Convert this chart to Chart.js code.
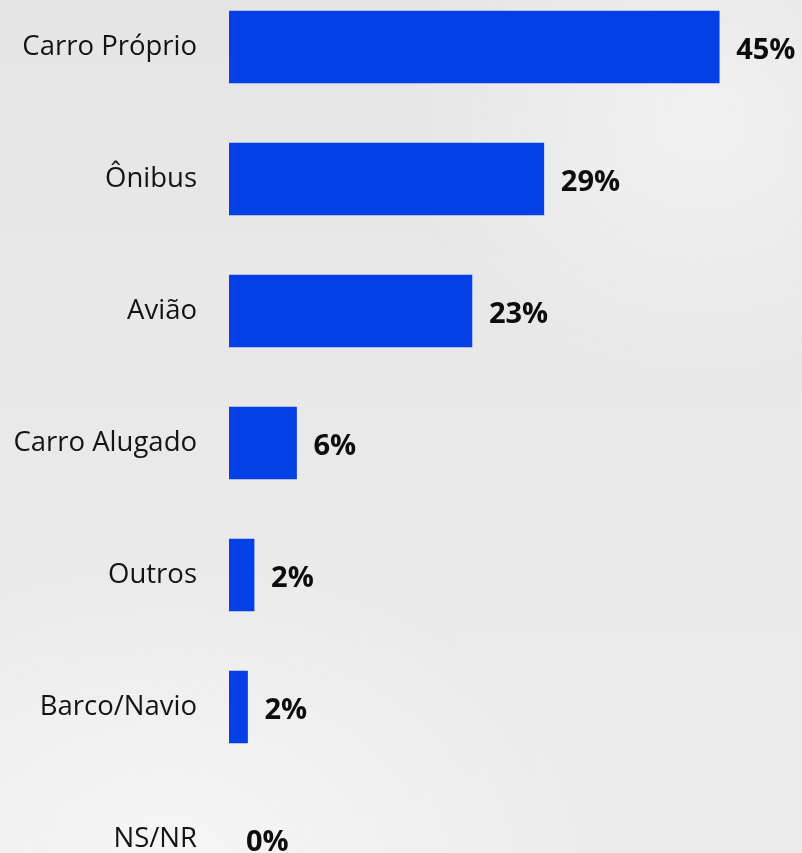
<!DOCTYPE html>
<html>
<head>
<meta charset="utf-8">
<script src="https://cdn.jsdelivr.net/npm/chart.js@4"></script>
<style>
  html, body { margin: 0; padding: 0; width: 802px; height: 853px; overflow: hidden; }
  body {
    background:
      radial-gradient(ellipse 420px 300px at 170px 860px, rgba(250,250,250,0.7), rgba(250,250,250,0) 100%),
      radial-gradient(ellipse 300px 260px at 700px 120px, rgba(248,248,248,0.6), rgba(248,248,248,0) 100%),
      linear-gradient(180deg, #e5e5e5 0%, #e9e9e9 50%, #ececec 100%);
  }
  #canvas_bar { position: absolute; left: 0; top: -19px; }
</style>
</head>
<body>
<canvas id="canvas_bar" width="802" height="924"></canvas>
<script>
const categories = ['Carro Próprio', 'Ônibus', 'Avião', 'Carro Alugado', 'Outros', 'Barco/Navio', 'NS/NR'];
const values = [45, 28.9, 22.3, 6.2, 2.3, 1.7, 0];
const valueLabels = ['45%', '29%', '23%', '6%', '2%', '2%', '0%'];

// labels at the end of each bar
const valueLabelPlugin = {
  id: 'valueLabels',
  afterDatasetsDraw(chart) {
    const ctx = chart.ctx;
    const meta = chart.getDatasetMeta(0);
    ctx.save();
    ctx.font = 'bold 29px "Open Sans"';
    ctx.fillStyle = '#0d0d0d';
    ctx.textAlign = 'left';
    ctx.textBaseline = 'middle';
    meta.data.forEach((bar, i) => {
      ctx.fillText(valueLabels[i], bar.x + 17, bar.y + 4);
    });
    ctx.restore();
  }
};

const data_bar = {
  labels: categories,
  datasets: [{
    data: values,
    backgroundColor: ctx => (ctx.raw > 0 ? '#053fe6' : 'rgba(0,0,0,0)'),
    borderWidth: 0,
    barThickness: 72,
    categoryPercentage: 1,
  }]
};

const config_bar = {
  type: 'bar',
  data: data_bar,
  options: {
    indexAxis: 'y',
    responsive: false,
    animation: false,
    layout: { padding: 0 },
    plugins: { legend: { display: false }, tooltip: { enabled: false } },
    scales: {
      x: {
        display: false,
        min: 0,
        max: 52.6,
      },
      y: {
        grid: { display: false, drawTicks: false },
        border: { display: false },
        ticks: {
          padding: 32,
          color: '#141414',
          font: { family: '"Open Sans"', size: 27.5 },
        },
        afterFit(scale) {
          scale.width = 229;
          scale.paddingTop = 0;
          scale.paddingBottom = 0;
        }
      }
    }
  },
  plugins: [valueLabelPlugin]
};

const canvas_bar = document.getElementById('canvas_bar');
const chart_bar = new Chart(canvas_bar, config_bar);
</script>
</body>
</html>
